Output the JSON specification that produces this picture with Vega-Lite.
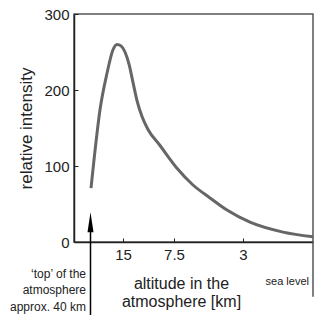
{
  "$schema": "https://vega.github.io/schema/vega-lite/v6.json",
  "autosize": "none",
  "width": 239,
  "height": 228,
  "padding": {"left": 74, "top": 14, "right": 2, "bottom": 73},
  "background": "white",
  "config": {
    "font": "Liberation Sans, Arial, sans-serif",
    "view": {"stroke": "#555", "strokeWidth": 1.5}
  },
  "datasets": {
    "curve": [
      {"pos": 17, "intensity": 71},
      {"pos": 20, "intensity": 108},
      {"pos": 26, "intensity": 174},
      {"pos": 33, "intensity": 222},
      {"pos": 39, "intensity": 253},
      {"pos": 43, "intensity": 260},
      {"pos": 47, "intensity": 258},
      {"pos": 51, "intensity": 250},
      {"pos": 55, "intensity": 234},
      {"pos": 59, "intensity": 210},
      {"pos": 63, "intensity": 186},
      {"pos": 68, "intensity": 165},
      {"pos": 74, "intensity": 148},
      {"pos": 86, "intensity": 127},
      {"pos": 103, "intensity": 97},
      {"pos": 119, "intensity": 75},
      {"pos": 136, "intensity": 58},
      {"pos": 153, "intensity": 42},
      {"pos": 176, "intensity": 26},
      {"pos": 209, "intensity": 13},
      {"pos": 239, "intensity": 7}
    ]
  },
  "layer": [
    {
      "data": {"name": "curve"},
      "mark": {"type": "line", "color": "#666", "strokeWidth": 3, "interpolate": "monotone"},
      "encoding": {
        "x": {
          "field": "pos", "type": "quantitative",
          "scale": {"domain": [0, 239], "nice": false, "zero": false},
          "axis": {
            "values": [49, 100, 169],
            "labelExpr": "datum.value == 49 ? '15' : datum.value == 100 ? '7.5' : '3'",
            "title": ["altitude in the", "atmosphere [km]"],
            "titleFontSize": 16, "titleFontWeight": "normal", "titleColor": "#222",
            "titleX": 107, "titleY": 46, "titleAnchor": "middle", "titleAlign": "center",
            "titleLineHeight": 18, "titleBaseline": "alphabetic",
            "labelFontSize": 15, "labelColor": "#222", "labelPadding": 9,
            "tickSize": -4, "tickColor": "#222", "domainColor": "#222", "domainWidth": 1.5,
            "grid": false
          }
        },
        "y": {
          "field": "intensity", "type": "quantitative",
          "scale": {"domain": [0, 300], "nice": false},
          "axis": {
            "values": [0, 50, 100, 150, 200, 250, 300],
            "labelExpr": "datum.value % 100 == 0 ? datum.label : ''",
            "title": "relative intensity",
            "titleFontSize": 17, "titleFontWeight": "normal", "titleColor": "#222",
            "titlePadding": 8,
            "labelFontSize": 15, "labelColor": "#222", "labelPadding": 9,
            "tickSize": -4, "tickColor": "#222", "domainColor": "#222", "domainWidth": 1.5,
            "grid": false
          }
        }
      }
    },
    {
      "data": {"values": [{"pos": 16.5, "y1": -96, "y2": 26}]},
      "mark": {"type": "rule", "color": "#000", "strokeWidth": 1.5},
      "encoding": {
        "x": {"field": "pos", "type": "quantitative"},
        "y": {"field": "y1", "type": "quantitative"},
        "y2": {"field": "y2"}
      }
    },
    {
      "data": {"values": [{"pos": 16.5, "y": 26}]},
      "mark": {"type": "point", "shape": "M0,-1L0.3,1L-0.3,1Z", "size": 400, "filled": true, "color": "#000", "opacity": 1},
      "encoding": {
        "x": {"field": "pos", "type": "quantitative"},
        "y": {"field": "y", "type": "quantitative"}
      }
    },
    {
      "data": {"values": [{"pos": 239, "y1": -72, "y2": 0}]},
      "mark": {"type": "rule", "color": "#555", "strokeWidth": 1.5},
      "encoding": {
        "x": {"field": "pos", "type": "quantitative"},
        "y": {"field": "y1", "type": "quantitative"},
        "y2": {"field": "y2"}
      }
    },
    {
      "data": {"values": [{"pos": 12, "y": -47, "label": "‘top’ of the\natmosphere\napprox. 40 km"}]},
      "mark": {"type": "text", "align": "right", "baseline": "alphabetic", "fontSize": 12, "lineHeight": 16.5, "lineBreak": "\n", "color": "#222"},
      "encoding": {
        "x": {"field": "pos", "type": "quantitative"},
        "y": {"field": "y", "type": "quantitative"},
        "text": {"field": "label"}
      }
    },
    {
      "data": {"values": [{"pos": 235, "y": -57, "label": "sea level"}]},
      "mark": {"type": "text", "align": "right", "baseline": "alphabetic", "fontSize": 11, "color": "#222"},
      "encoding": {
        "x": {"field": "pos", "type": "quantitative"},
        "y": {"field": "y", "type": "quantitative"},
        "text": {"field": "label"}
      }
    }
  ]
}
